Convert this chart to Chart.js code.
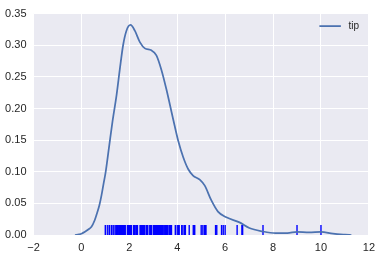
<!DOCTYPE html>
<html>
<head>
<meta charset="utf-8">
<script src="https://cdn.jsdelivr.net/npm/chart.js@4"></script>
<style>
  html, body { margin: 0; padding: 0; background: #fff; }
  #wrap { width: 381px; height: 258px; }
</style>
</head>
<body>
<div id="wrap"><canvas id="kdeChart" width="381" height="258"></canvas></div>
<script>
// ---- data ----
const kdeX = [-0.27, -0.1, 0.0, 0.15, 0.3, 0.42, 0.55, 0.63, 0.75, 0.84, 0.92, 1.01, 1.16, 1.30,
  1.47, 1.60, 1.74, 1.88, 2.05, 2.23, 2.44, 2.65, 2.92, 3.13, 3.34, 3.55, 3.83, 4.04, 4.25,
  4.46, 4.66, 4.94, 5.15, 5.42, 5.70, 6.05, 6.60, 7.01, 7.56, 8.1, 8.6, 9.0, 9.5, 10.0,
  10.5, 11.0, 11.27];
const kdeY = [0.0, 0.001, 0.002, 0.005, 0.009, 0.013, 0.023, 0.032, 0.047, 0.063, 0.080, 0.099,
  0.141, 0.180, 0.222, 0.261, 0.300, 0.323, 0.332, 0.323, 0.305, 0.295, 0.292, 0.284, 0.261,
  0.230, 0.183, 0.149, 0.123, 0.104, 0.094, 0.0875, 0.078, 0.055, 0.037, 0.028, 0.020, 0.011,
  0.0057, 0.003, 0.003, 0.005, 0.004, 0.005, 0.002, 0.0005, 0.0];

// rug: one tick per observed tip
const rugTips = [1.0, 1.01, 1.1, 1.17, 1.25, 1.32, 1.36, 1.44, 1.45, 1.47, 1.48, 1.5, 1.56, 1.57,
  1.58, 1.61, 1.63, 1.64, 1.66, 1.67, 1.68, 1.71, 1.73, 1.75, 1.76, 1.8, 1.83, 1.92, 1.96,
  1.97, 1.98, 2.0, 2.01, 2.02, 2.03, 2.05, 2.09, 2.18, 2.2, 2.23, 2.24, 2.3, 2.31, 2.34,
  2.45, 2.47, 2.5, 2.52, 2.54, 2.55, 2.56, 2.6, 2.61, 2.64, 2.71, 2.72, 2.74, 2.75, 2.83,
  2.88, 2.92, 3.0, 3.02, 3.06, 3.07, 3.08, 3.09, 3.11, 3.12, 3.14, 3.15, 3.16, 3.18, 3.21,
  3.23, 3.25, 3.27, 3.31, 3.35, 3.39, 3.4, 3.41, 3.48, 3.5, 3.51, 3.55, 3.6, 3.61, 3.68,
  3.71, 3.75, 3.76, 3.92, 4.0, 4.06, 4.08, 4.19, 4.2, 4.29, 4.3, 4.34, 4.5, 4.67, 4.71,
  4.73, 5.0, 5.07, 5.14, 5.15, 5.16, 5.17, 5.2, 5.6, 5.65, 5.85, 5.92, 6.0, 6.5, 6.7,
  6.73, 7.58, 9.0, 10.0];

const xTicks = [-2, 0, 2, 4, 6, 8, 10, 12];
const yTicks = [0.00, 0.05, 0.10, 0.15, 0.20, 0.25, 0.30, 0.35];
const seriesName = 'tip';
const rugHeight = 0.016;

// ---- plugins ----
const bgPlugin = {
  id: 'bg',
  beforeDraw(chart) {
    const { ctx, chartArea: a } = chart;
    ctx.save();
    ctx.fillStyle = '#EAEAF2';
    ctx.fillRect(a.left, a.top, a.right - a.left, a.bottom - a.top);
    ctx.restore();
  }
};

const legendPlugin = {
  id: 'miniLegend',
  afterDraw(chart) {
    const { ctx, chartArea: a } = chart;
    const y = a.top + 12.5;
    ctx.save();
    ctx.strokeStyle = '#4C72B0';
    ctx.lineWidth = 1.75;
    ctx.beginPath();
    ctx.moveTo(a.right - 49.5, y);
    ctx.lineTo(a.right - 28, y);
    ctx.stroke();
    ctx.fillStyle = '#262626';
    ctx.font = '10px "Liberation Sans", Arial, sans-serif';
    ctx.textBaseline = 'middle';
    ctx.fillText(seriesName, a.right - 20.5, y + 0.5);
    ctx.restore();
  }
};

// ---- chart ----
const tickFont = { family: '"Liberation Sans", Arial, sans-serif', size: 11 };

new Chart(document.getElementById('kdeChart'), {
  type: 'scatter',
  data: {
    datasets: [
      {
        label: seriesName,
        type: 'line',
        data: kdeX.map((x, i) => ({ x, y: kdeY[i] })),
        borderColor: '#4C72B0',
        borderWidth: 1.75,
        pointRadius: 0,
        cubicInterpolationMode: 'monotone',
        fill: false,
        order: 0
      },
      {
        label: 'rug',
        data: rugTips.map(x => ({ x, y: rugHeight / 2 })),
        pointStyle: 'line',
        rotation: 90,
        radius: 5,
        borderColor: '#0000FF',
        borderWidth: 1.4,
        order: 1
      }
    ]
  },
  options: {
    responsive: false,
    animation: false,
    devicePixelRatio: 1,
    layout: { padding: { top: 11, right: 11.5, left: 0, bottom: 0 } },
    plugins: { legend: { display: false }, tooltip: { enabled: false } },
    scales: {
      x: {
        type: 'linear',
        min: -2, max: 12,
        afterBuildTicks: s => { s.ticks = xTicks.map(v => ({ value: v })); },
        afterFit: s => { s.height = 23; },
        grid: { color: '#FFFFFF', lineWidth: 1, drawTicks: false },
        border: { display: false },
        ticks: { color: '#262626', font: tickFont, padding: 6, maxRotation: 0,
          callback: v => String(v).replace('-', '\u2212') }
      },
      y: {
        min: 0, max: 0.35,
        afterBuildTicks: s => { s.ticks = yTicks.map(v => ({ value: v })); },
        afterFit: s => { s.width = 33.5; },
        grid: { color: '#FFFFFF', lineWidth: 1, drawTicks: false },
        border: { display: false },
        ticks: { color: '#262626', font: tickFont, padding: 7, callback: v => v.toFixed(2) }
      }
    }
  },
  plugins: [bgPlugin, legendPlugin]
});
</script>
</body>
</html>
